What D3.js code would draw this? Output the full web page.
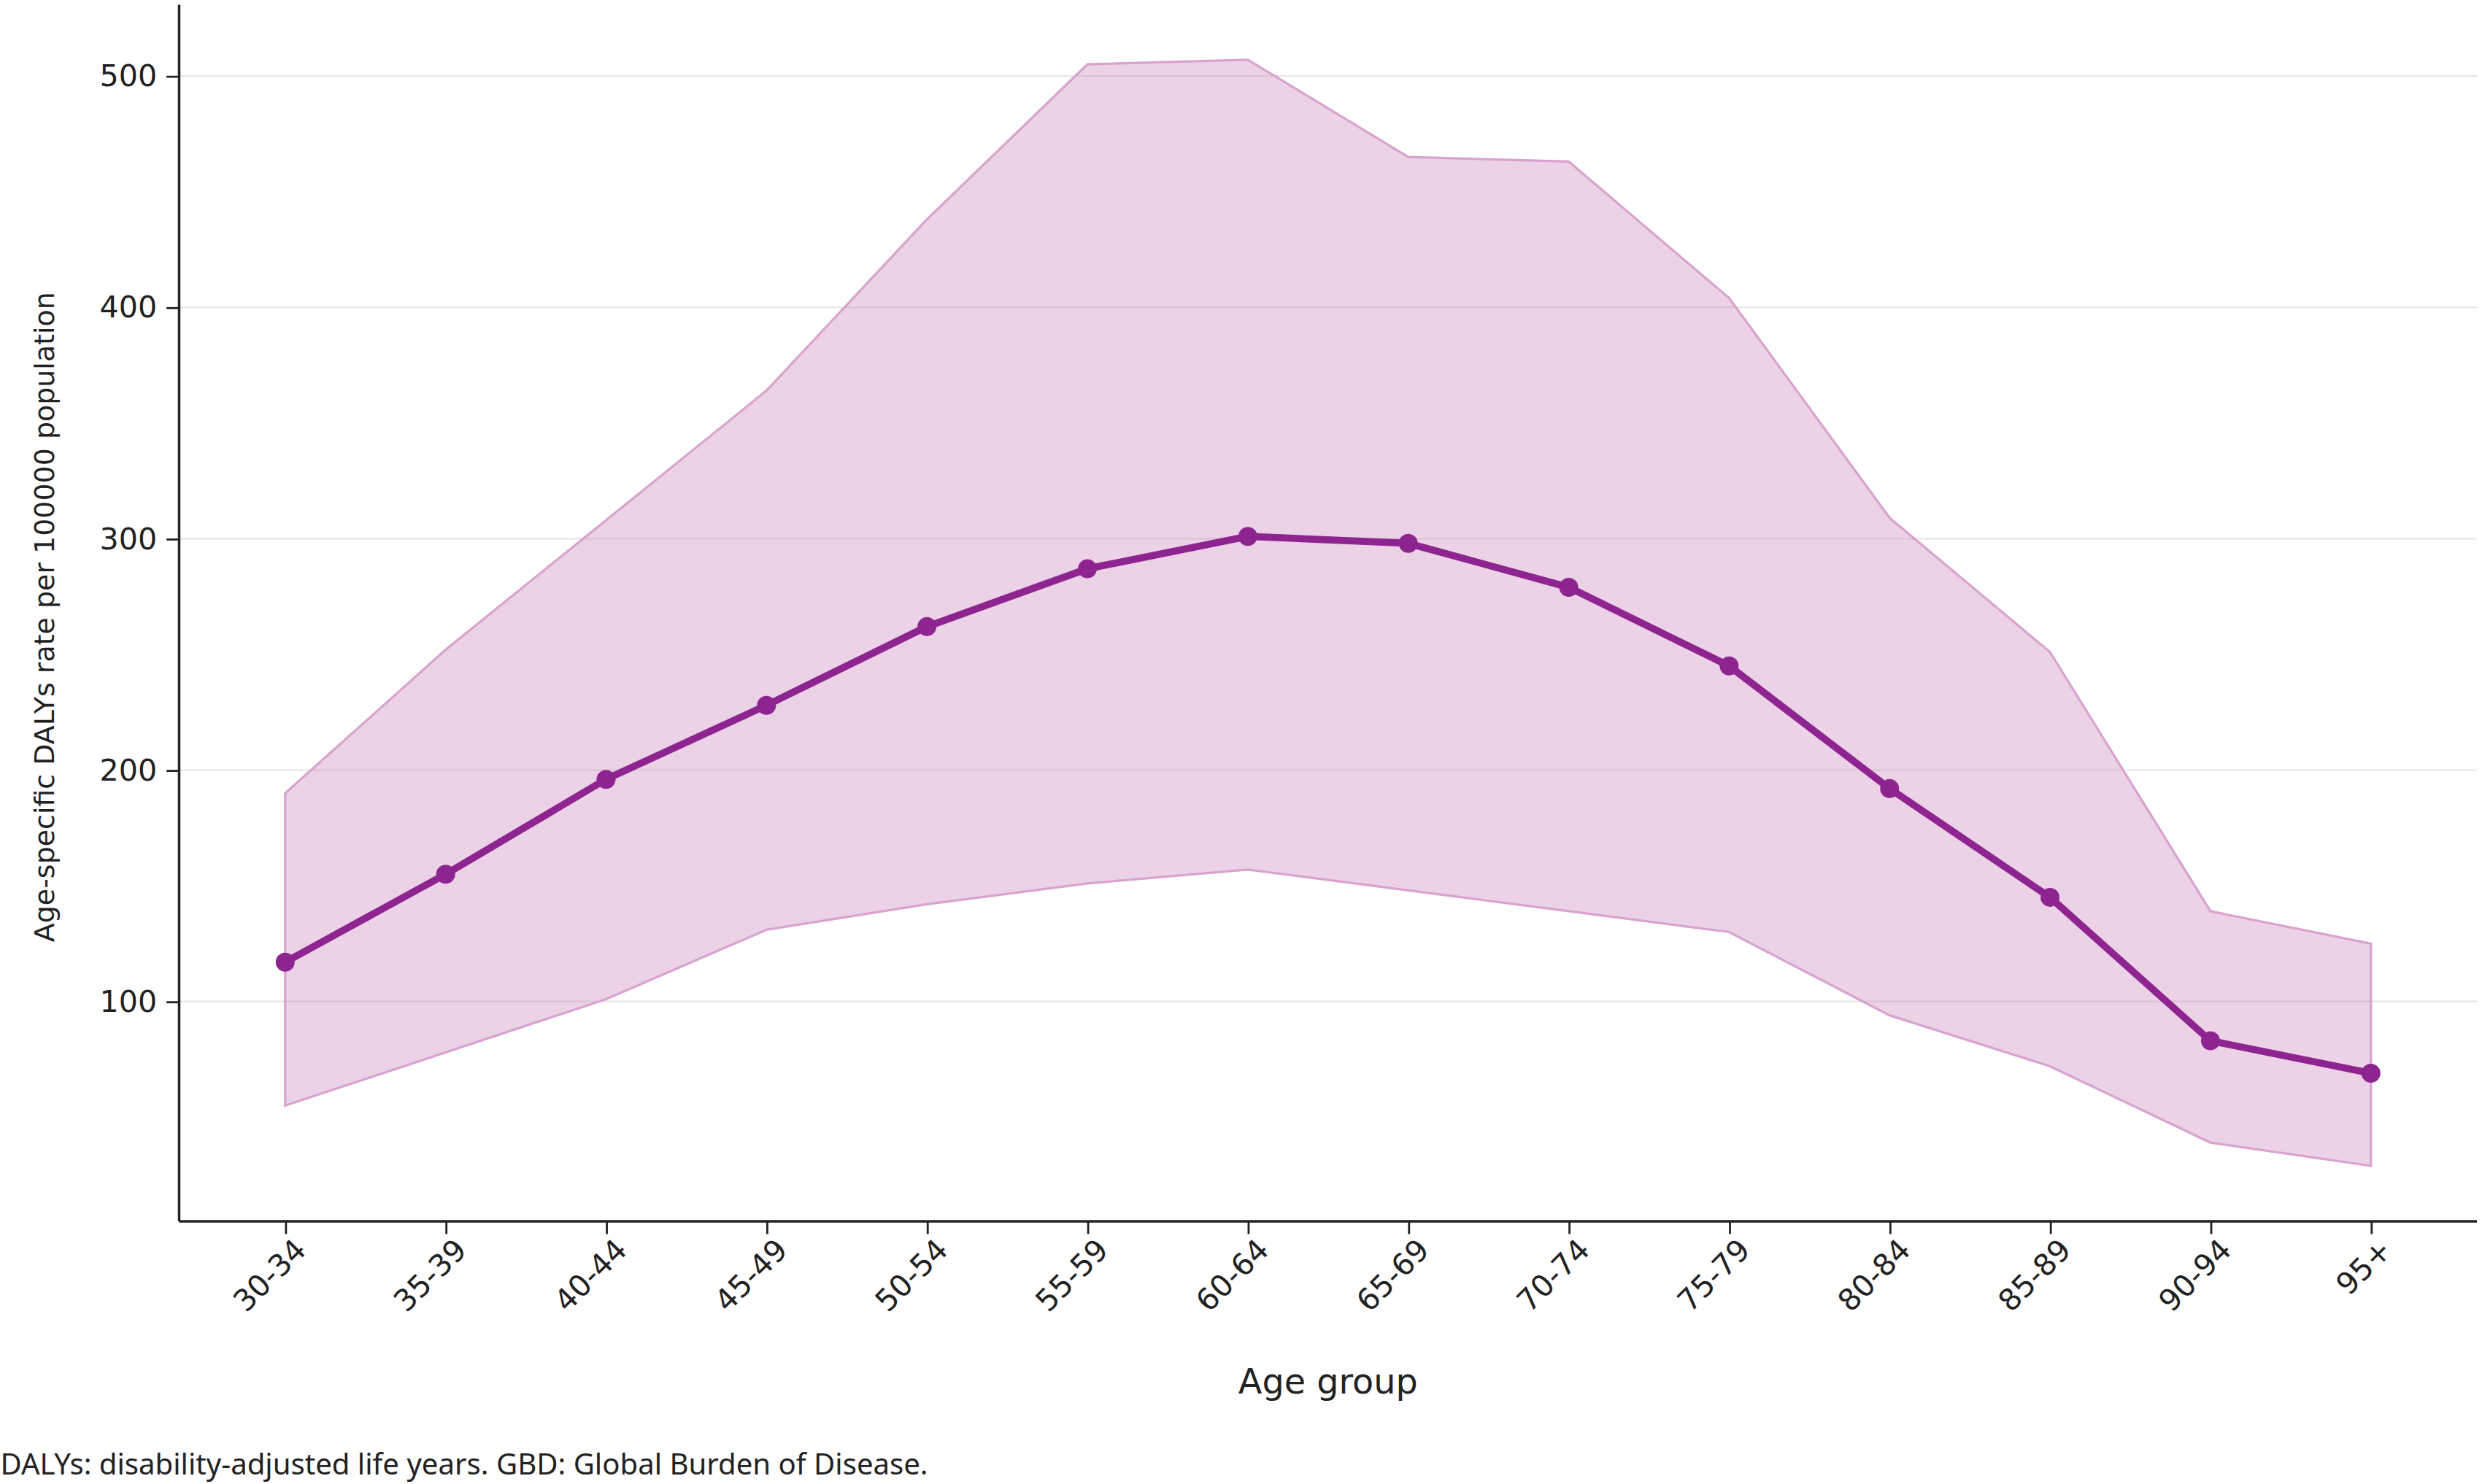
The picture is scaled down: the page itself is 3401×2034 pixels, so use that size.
<!DOCTYPE html>
<html><head><meta charset="utf-8">
<script src="https://cdn.jsdelivr.net/npm/d3@7"></script>
<style>body{margin:0;background:#fff}</style>
</head><body>
<svg id="chart" width="3401" height="2034" viewBox="0 0 1568 938"></svg>
<script>
const ageGroups = ['30-34','35-39','40-44','45-49','50-54','55-59','60-64','65-69','70-74','75-79','80-84','85-89','90-94','95+']
const rate  = [117,155,196,228,262,287,301,298,279,245,192,145,83,69]
const upper = [190,252,308,364,438,505,507,465,463,404,309,251,139,125]
const lower = [55,78,101,131,142,151,157,148,139,130,94,72,39,29]
const yTicks = [100,200,300,400,500]

const svg = d3.select('#chart')
const mLeft = 113, mRight = 1565, mTop = 3, mBottom = 772

const x = d3.scalePoint().domain(ageGroups).range([180, 1498])
const y = d3.scaleLinear().domain([(779.25-772)/1.4625, (779.25-3)/1.4625]).range([mBottom, mTop])

// grid
svg.append('g').selectAll('line').data(yTicks).enter().append('line')
  .attr('x1', mLeft).attr('x2', mRight)
  .attr('y1', d => y(d)).attr('y2', d => y(d))
  .attr('stroke', '#e6e6e6').attr('stroke-width', 1)

const band = ageGroups.map((g, i) => ({g, lo: lower[i], hi: upper[i], v: rate[i]}))

svg.append('path').datum(band)
  .attr('d', d3.area().x(d => x(d.g)).y0(d => y(d.lo)).y1(d => y(d.hi)))
  .attr('fill', '#c97fb9').attr('fill-opacity', 0.35)
  .attr('stroke', '#d9a3cf').attr('stroke-width', 1.5)

svg.append('path').datum(band)
  .attr('d', d3.line().x(d => x(d.g)).y(d => y(d.v)))
  .attr('fill', 'none').attr('stroke', '#8e2490').attr('stroke-width', 4.5)

svg.append('g').selectAll('circle').data(band).enter().append('circle')
  .attr('cx', d => x(d.g)).attr('cy', d => y(d.v)).attr('r', 6)
  .attr('fill', '#8e2490')

// axes
const xAxis = svg.append('g').attr('transform', `translate(0,${mBottom})`)
  .call(d3.axisBottom(x).tickSize(8).tickPadding(4))
xAxis.select('.domain').attr('d', `M${mLeft},0H${mRight}`).attr('stroke', '#222').attr('stroke-width', 1.6)
xAxis.selectAll('.tick line').attr('stroke', '#222').attr('stroke-width', 1.3)
xAxis.selectAll('text')
  .attr('font-family', 'DejaVu Sans').attr('font-size', 19).attr('fill', '#222')
  .attr('text-anchor', 'end').attr('dx', '-0.2em').attr('dy', '0.6em')
  .attr('transform', 'rotate(-45)')

const yAxis = svg.append('g').attr('transform', `translate(${mLeft},0)`)
  .call(d3.axisLeft(y).tickValues(yTicks).tickSize(8).tickPadding(6))
yAxis.select('.domain').attr('d', `M0,${mTop}V${mBottom}`).attr('stroke', '#222').attr('stroke-width', 1.6)
yAxis.selectAll('.tick line').attr('stroke', '#222').attr('stroke-width', 1.3)
yAxis.selectAll('text').attr('font-family', 'DejaVu Sans').attr('font-size', 19).attr('fill', '#222')

svg.append('text').attr('x', 839).attr('y', 881).attr('text-anchor', 'middle')
  .attr('font-family', 'DejaVu Sans').attr('font-size', 22).attr('fill', '#222')
  .text('Age group')

svg.append('text').attr('transform', 'translate(34,390) rotate(-90)').attr('text-anchor', 'middle')
  .attr('font-family', 'DejaVu Sans').attr('font-size', 17.5).attr('fill', '#222')
  .text('Age-specific DALYs rate per 100000 population')

svg.append('text').attr('x', 0).attr('y', 932)
  .attr('font-family', 'Noto Sans').attr('font-size', 18.5).attr('fill', '#222')
  .text('DALYs: disability-adjusted life years. GBD: Global Burden of Disease.')
</script>
</body></html>
